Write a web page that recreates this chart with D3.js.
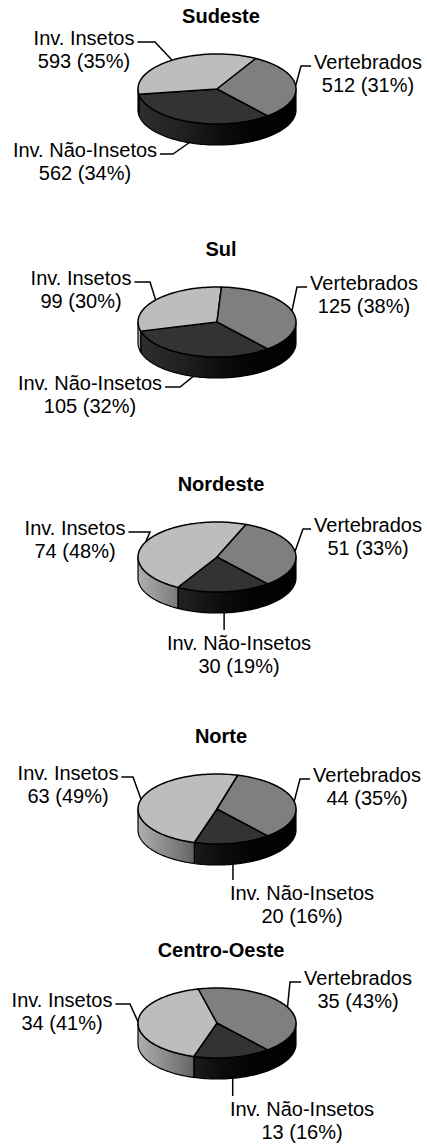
<!DOCTYPE html>
<html>
<head>
  <meta charset="utf-8">
  <script src="https://d3js.org/d3.v7.min.js"></script>
  <style>
    body { margin: 0; background: #fff; }
    text { font-family: "Liberation Sans", Arial, sans-serif; font-size: 20px; fill: #000; }
    .title { font-weight: bold; }
    .leader { fill: none; stroke: #000; stroke-width: 1.5px; }
  </style>
</head>
<body>
  <svg id="chart" width="427" height="1145"></svg>

  <script>
    // regions (one pie each) and categories in drawing order
    const regions = ["Sudeste", "Sul", "Nordeste", "Norte", "Centro-Oeste"];
    const categories = ["Inv. Não-Insetos", "Inv. Insetos", "Vertebrados"];

    // counts per region
    const naoInsetos = [562, 105, 30, 20, 13];
    const insetos = [593, 99, 74, 63, 34];
    const vertebrados = [512, 125, 51, 44, 35];

    // percentages as printed on the labels
    const pctNaoInsetos = [34, 32, 19, 16, 16];
    const pctInsetos = [35, 30, 48, 49, 41];
    const pctVertebrados = [31, 38, 33, 35, 43];

    const topColors = ["#333333", "#bdbdbd", "#7f7f7f"];

    // layout
    const svg = d3.select("#chart");
    const cx = 217, rx = 79, ry = 35, depth = 21;
    const centersY = [89, 322, 557, 809, 1023];
    const titleX = 221, titleDy = -66, lineGap = 23;
    const startAngle = 140 * Math.PI / 180;

    // label placement (x = text centre, dy = first baseline relative to pie centre)
    const labelLayout = [
      [{ x: 85, dy: 68, side: "left", elbow: 173 }, { x: 84, dy: -44, side: "left", elbow: 155 }, { x: 368, dy: -20, side: "right", elbow: 301 }],
      [{ x: 90, dy: 68, side: "left", elbow: 180 }, { x: 81, dy: -37, side: "left", elbow: 150 }, { x: 364, dy: -32, side: "right", elbow: 297 }],
      [{ x: 239, dy: 93, side: "below" }, { x: 75, dy: -22, side: "left", elbow: 150 }, { x: 368, dy: -25, side: "right", elbow: 303 }],
      [{ x: 302, dy: 91, side: "below" }, { x: 68, dy: -29, side: "left", elbow: 133 }, { x: 367, dy: -27, side: "right", elbow: 300 }],
      [{ x: 302, dy: 93, side: "below" }, { x: 62, dy: -16, side: "left", elbow: 130 }, { x: 358, dy: -38, side: "right", elbow: 290 }]
    ];

    // side shading: darker towards the right, like the excel 3d pie
    const defs = svg.append("defs");
    const shade = [[0, 0.92], [0.3, 0.6], [0.55, 0.22], [0.75, 0.05], [1, 0]];
    topColors.forEach((c, i) => {
      const g = defs.append("linearGradient")
        .attr("id", "side" + i)
        .attr("gradientUnits", "userSpaceOnUse")
        .attr("x1", cx - rx).attr("x2", cx + rx)
        .attr("y1", 0).attr("y2", 0);
      const base = d3.rgb(c);
      shade.forEach(s => {
        g.append("stop")
          .attr("offset", s[0])
          .attr("stop-color", d3.rgb(base.r * s[1], base.g * s[1], base.b * s[1]).formatHex());
      });
    });

    const pie = d3.pie().sort(null).value(d => d.value)
      .startAngle(startAngle).endAngle(startAngle + 2 * Math.PI);

    const line = d3.line();

    function pt(a, cy, drop) {
      return [cx + rx * Math.sin(a), cy - ry * Math.cos(a) + (drop || 0)];
    }

    function arcPoints(a0, a1, cy, drop) {
      const n = Math.max(2, Math.ceil((a1 - a0) / 0.03));
      return d3.range(n + 1).map(i => pt(a0 + (a1 - a0) * i / n, cy, drop));
    }

    regions.forEach((region, r) => {
      const cy = centersY[r];
      const data = categories.map((name, i) => ({
        name: name,
        value: [naoInsetos, insetos, vertebrados][i][r],
        pct: [pctNaoInsetos, pctInsetos, pctVertebrados][i][r],
        idx: i
      }));
      const arcs = pie(data);
      const g = svg.append("g");

      // title
      g.append("text").attr("class", "title")
        .attr("x", titleX).attr("y", cy + titleDy)
        .attr("text-anchor", "middle")
        .text(region);

      // sides (only the front half is visible)
      arcs.forEach(a => {
        for (let k = 0; k < 2; k++) {
          const lo = Math.max(a.startAngle, Math.PI / 2 + 2 * Math.PI * k);
          const hi = Math.min(a.endAngle, 3 * Math.PI / 2 + 2 * Math.PI * k);
          if (hi <= lo) continue;
          const pts = arcPoints(lo, hi, cy, 0).concat(arcPoints(lo, hi, cy, depth).reverse());
          g.append("path")
            .attr("d", line(pts) + "Z")
            .attr("fill", "url(#side" + a.data.idx + ")")
            .attr("stroke", "#000")
            .attr("stroke-width", 1.2)
            .attr("stroke-linejoin", "round");
        }
      });

      // top faces
      g.selectAll("path.top").data(arcs).join("path")
        .attr("class", "top")
        .attr("d", a => line([[cx, cy]].concat(arcPoints(a.startAngle, a.endAngle, cy, 0))) + "Z")
        .attr("fill", a => topColors[a.data.idx])
        .attr("stroke", "#000")
        .attr("stroke-width", 1.5)
        .attr("stroke-linejoin", "round");

      // labels with leader lines
      arcs.forEach(a => {
        const lay = labelLayout[r][a.data.idx];
        const mid = (a.startAngle + a.endAngle) / 2;
        const m = ((mid % (2 * Math.PI)) + 2 * Math.PI) % (2 * Math.PI);
        const front = m > Math.PI / 2 && m < 3 * Math.PI / 2;
        const rim = pt(mid, cy, front ? depth : 0);
        const ty = cy + lay.dy;

        const t = g.append("text").attr("text-anchor", "middle");
        t.append("tspan").attr("x", lay.x).attr("y", ty).text(a.data.name);
        t.append("tspan").attr("x", lay.x).attr("y", ty + lineGap)
          .text(a.data.value + " (" + a.data.pct + "%)");

        const w = t.select("tspan").node().getComputedTextLength();
        let pts;
        if (lay.side === "left") {
          pts = [[lay.x + w / 2 + 3, ty - 3], [lay.elbow, ty - 3], rim];
        } else if (lay.side === "right") {
          pts = [[lay.x - w / 2 - 3, ty - 3], [lay.elbow, ty - 3], rim];
        } else {
          pts = [rim, [rim[0], ty - 20]];
        }
        g.append("path").attr("class", "leader").attr("d", line(pts));
      });
    });
  </script>
</body>
</html>
